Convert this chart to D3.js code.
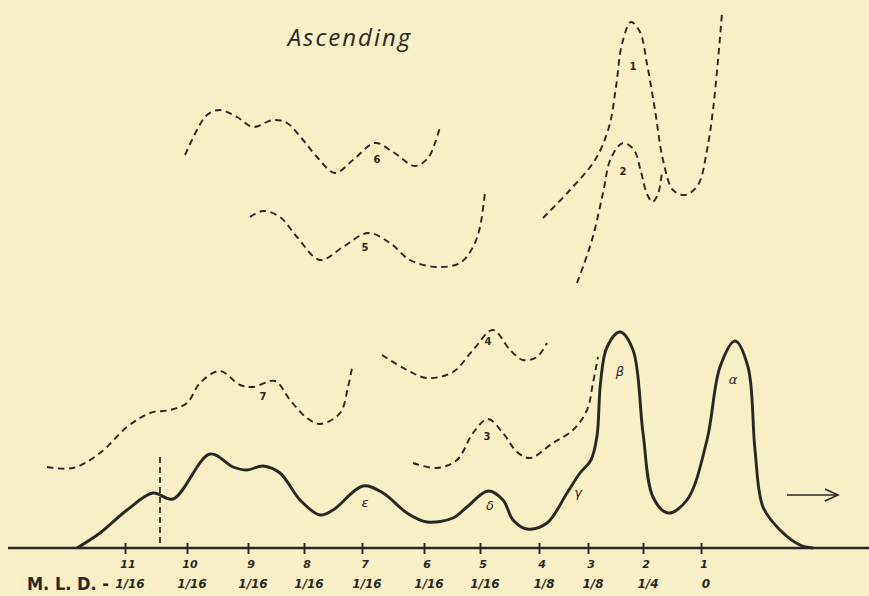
<!DOCTYPE html>
<html><head><meta charset="utf-8">
<script src="https://cdn.jsdelivr.net/npm/d3@7"></script>
<style>
html,body{margin:0;padding:0;background:#f8efc6;}
svg{display:block;}
text{fill:#2a2824;}
</style></head>
<body><svg id="c" width="869" height="596"></svg>
<script>
// Fractions (tick positions along migration distance, arbitrary units)
const tickPos   = [23.4, 35.8, 48, 59.2, 70.8, 83.2, 94.4, 106.2, 116, 127, 138.6];
const tickNums  = ["11","10","9","8","7","6","5","4","3","2","1"];
const tickMLD   = ["1/16","1/16","1/16","1/16","1/16","1/16","1/16","1/8","1/8","1/4","0"];

// Main (solid) pattern: [distance, height]
const mainCurve = [[13.8,0],[18.4,3.75],[23.8,9.5],[29,13.75],[33,12.25],[40.4,23.5],[45,20.25],[47.8,19.5],[51,20.5],[54.4,18.75],[58.4,12],[62.4,8.25],[65,9.5],[71,15.5],[75,13.75],[79.8,8.75],[83.8,6.5],[89,7.5],[91.8,10.25],[96,14.25],[99,12],[101,7],[103.8,4.75],[107.8,6.25],[111.8,13.75],[114.4,18.75],[116.6,22],[117.8,28],[118.5,41.25],[119.8,50.25],[122.4,54],[125,49.5],[127,28.75],[129,12.75],[132,8.75],[135.8,12],[139.8,27],[142.4,45.25],[145.4,51.75],[148,45.25],[149.4,24.5],[151,10.25],[154.4,4.5],[158.4,0.75],[161,0]];

// Dashed fraction patterns
const frac7 = [[7.8,20.25],[13,20],[18.4,23.75],[23.8,30.25],[28.4,33.75],[32.4,34.5],[35.8,36.25],[38.4,41.25],[42.4,44.25],[46.4,40.75],[49,40.25],[53.4,41.75],[56.4,37],[59.8,32.5],[62.4,31],[66.4,33.75],[68,40.25],[68.8,45]];
const frac6 = [[35.4,98.25],[37.8,104.5],[39.8,108.25],[42.4,109.5],[45.8,107.75],[49,105.25],[53,107],[55.8,106.25],[59,102],[61.8,97.75],[65.4,93.75],[69,97],[73.4,101.25],[77,99],[81.4,95.5],[84,97.5],[85.4,101.25],[86.4,105.25]];
const frac5 = [[48.4,82.75],[51,84.25],[54.4,82.75],[57.8,77.75],[62.4,72],[67,75.25],[72,78.75],[76.4,76.25],[80.4,72],[85.8,70.25],[90.4,71.25],[93,75.25],[94.4,80.25],[95.4,89]];
const frac4 = [[74.8,48.25],[79.8,44.5],[83.8,42.5],[89,44],[93,49.5],[97,54.5],[100.4,49.5],[103,47],[105.8,47.75],[107.8,51.25]];
const frac3 = [[81,21.25],[85.8,20],[89.8,22],[93,28.75],[96,32.25],[99,28.75],[101.8,24],[104.4,22.5],[109,26.25],[113,29.5],[115.8,34.5],[117,41.25],[118,47.75]];
const frac2 = [[113.8,66.25],[116.8,77],[119,88.75],[120.6,97.5],[123,101.25],[125.2,99.5],[126.6,94],[127.8,88.5],[128.9,86.5],[130,88.5],[130.8,94]];
const frac1 = [[107,82.5],[112.4,89.5],[117.4,97],[120.2,105.25],[121.6,115.25],[122.8,126],[124.6,131.5],[126.4,129],[127.8,121],[129.4,109.5],[131,97],[133,89.5],[135.4,88.25],[138,90.75],[139.8,99.5],[141,109.5],[142,122],[142.8,133.75]];

const dashedSeries = [frac7, frac6, frac5, frac4, frac3, frac2, frac1];
const dashedLabels = [["7",51,37.75],["6",73.8,97],["5",71.4,75],["4",96,51.5],["3",95.8,27.75],["1",125,120.25],["2",123,94]];
const greekLabels  = [["ε",71.4,11.25],["δ",96.4,10.5],["γ",114,13.75],["β",122.4,44],["α",145,42]];
const markerLine = [30.4, 22.75];
const arrowSpan = [155.8, 166, 13.25];

const svg = d3.select("#c");
const x = d3.scaleLinear().domain([0,172]).range([8,868]);
const y = d3.scaleLinear().domain([0,137]).range([548,0]);
const ink = "#2a2824";

const line = d3.line().x(d=>x(d[0])).y(d=>y(d[1])).curve(d3.curveCatmullRom.alpha(0.5));

// title
svg.append("text").attr("x",350).attr("y",46).attr("text-anchor","middle")
  .attr("font-family","Open Sans, sans-serif").attr("font-style","italic")
  .attr("font-size",24).attr("letter-spacing",2).text("Ascending");

// dashed fractions
dashedSeries.forEach(s=>{
  svg.append("path").attr("d",line(s)).attr("fill","none").attr("stroke",ink)
    .attr("stroke-width",1.9).attr("stroke-dasharray","6.5,4.5");
});
dashedLabels.forEach(l=>{
  svg.append("text").attr("x",x(l[1])).attr("y",y(l[2])).attr("text-anchor","middle")
    .attr("dominant-baseline","middle").attr("font-family","DejaVu Sans, sans-serif")
    .attr("font-size",10).attr("font-weight","bold").text(l[0]);
});

// marker vertical dashed line
svg.append("line").attr("x1",x(markerLine[0])).attr("x2",x(markerLine[0]))
  .attr("y1",y(markerLine[1])).attr("y2",y(0)).attr("stroke",ink)
  .attr("stroke-width",1.7).attr("stroke-dasharray","6,4");

// main solid
svg.append("path").attr("d",line(mainCurve)).attr("fill","none").attr("stroke",ink)
  .attr("stroke-width",2.9).attr("stroke-linejoin","round");
greekLabels.forEach(l=>{
  svg.append("text").attr("x",x(l[1])).attr("y",y(l[2])).attr("text-anchor","middle")
    .attr("dominant-baseline","middle").attr("font-family","DejaVu Sans, sans-serif")
    .attr("font-size",13).attr("font-style","italic").text(l[0]);
});

// arrow
const ay = y(arrowSpan[2]);
svg.append("line").attr("x1",x(arrowSpan[0])).attr("x2",x(arrowSpan[1])).attr("y1",ay).attr("y2",ay)
  .attr("stroke",ink).attr("stroke-width",1.6);
svg.append("path").attr("d",`M${x(arrowSpan[1])-13},${ay-6}L${x(arrowSpan[1])},${ay}L${x(arrowSpan[1])-13},${ay+6}`)
  .attr("fill","none").attr("stroke",ink).attr("stroke-width",1.6);

// axis
const axis = d3.axisBottom(x).tickValues(tickPos).tickSize(6).tickFormat("");
const g = svg.append("g").attr("transform",`translate(0,${y(0)})`).call(axis);
g.select(".domain").remove();
g.selectAll(".tick line").attr("y1",-5).attr("y2",6).attr("stroke",ink).attr("stroke-width",1.9);
svg.append("line").attr("x1",8).attr("x2",869).attr("y1",y(0)).attr("y2",y(0))
  .attr("stroke",ink).attr("stroke-width",2.7);
tickPos.forEach((p,i)=>{
  svg.append("text").attr("x",x(p)+3).attr("y",568).attr("text-anchor","middle")
    .attr("font-family","DejaVu Sans, sans-serif").attr("font-size",11).attr("font-weight","bold")
    .attr("font-style","italic").text(tickNums[i]);
  svg.append("text").attr("x",x(p)+5).attr("y",588).attr("text-anchor","middle")
    .attr("font-family","DejaVu Sans, sans-serif").attr("font-size",12).attr("font-weight","bold")
    .attr("font-style","italic").text(tickMLD[i]);
});
svg.append("text").attr("x",27).attr("y",590).attr("font-family","DejaVu Sans Condensed, DejaVu Sans, sans-serif")
  .attr("font-size",18).attr("font-weight","bold").text("M. L. D.  -");
</script></body></html>
